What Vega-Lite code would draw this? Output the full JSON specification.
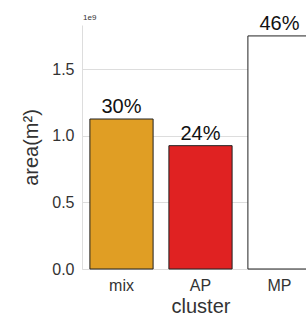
{
  "$schema": "https://vega.github.io/schema/vega-lite/v6.json",
  "autosize": {"type": "none"},
  "padding": {"left": 82, "top": 25, "right": 0, "bottom": 51},
  "width": 237,
  "height": 244,
  "title": {"text": "1e9", "anchor": "start", "frame": "group", "fontSize": 8, "fontWeight": "normal", "font": "Liberation Sans", "color": "#333", "offset": 4, "dx": 1, "dy": 12},
  "config": {
    "view": {"stroke": null},
    "font": "Liberation Sans"
  },
  "data": {
    "values": [
      {"cluster": "mix", "area": 1.125e9, "pct": "30%", "color": "#E09E24"},
      {"cluster": "AP", "area": 0.925e9, "pct": "24%", "color": "#E02222"},
      {"cluster": "MP", "area": 1.748e9, "pct": "46%", "color": "#FFFFFF"}
    ]
  },
  "encoding": {
    "x": {
      "field": "cluster", "type": "nominal", "sort": null,
      "scale": {"paddingInner": 0.2, "paddingOuter": 0.1},
      "axis": {"labelAngle": 0, "labelFontSize": 16, "labelColor": "#333", "titleFontSize": 20, "titleColor": "#333", "titleFontWeight": "normal", "ticks": false, "domainColor": "#DDDDDD", "labelPadding": 8, "titlePadding": 3, "grid": false}
    },
    "y": {
      "field": "area", "type": "quantitative",
      "scale": {"domain": [0, 1830000000], "nice": false},
      "axis": {"values": [0, 500000000, 1000000000, 1500000000], "labelExpr": "format(datum.value/1e9, '.1f')", "labelFontSize": 16, "labelColor": "#333", "title": "area(m²)", "titleFontSize": 20, "titleColor": "#333", "titleFontWeight": "normal", "ticks": false, "domainColor": "#DDDDDD", "gridColor": "#DDDDDD", "labelPadding": 8, "titlePadding": 10}
    }
  },
  "layer": [
    {
      "mark": {"type": "bar", "stroke": "#222", "strokeWidth": 1},
      "encoding": {"color": {"field": "color", "type": "nominal", "scale": null}}
    },
    {
      "mark": {"type": "text", "fontSize": 20, "baseline": "bottom", "dy": -2, "color": "#111"},
      "encoding": {"text": {"field": "pct"}}
    }
  ]
}
